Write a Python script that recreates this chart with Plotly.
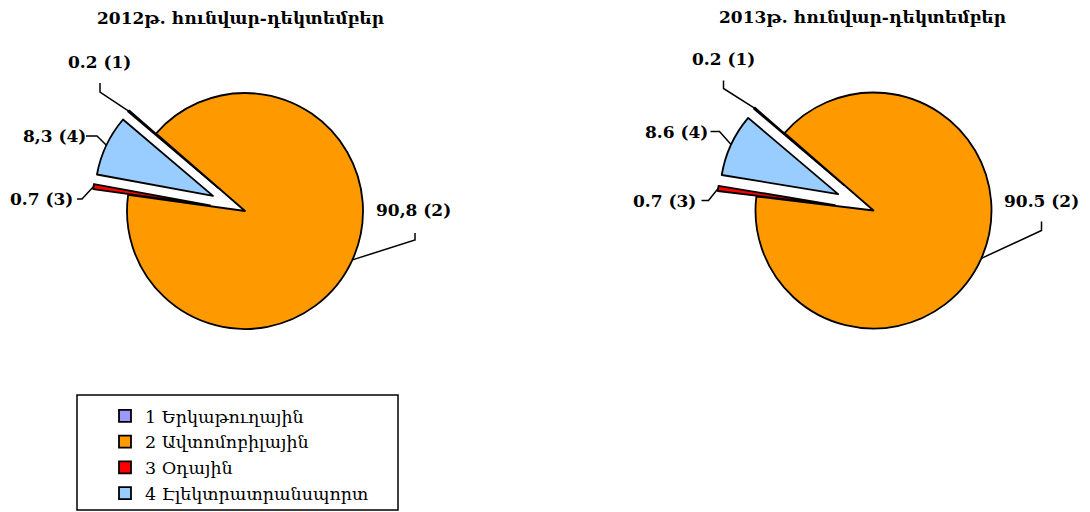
import math
import plotly.graph_objects as go

PAGE_W, PAGE_H = 1090, 512
OFF = 8  # default body margin of the html page
W, H = PAGE_W - OFF, PAGE_H - OFF

# ---------------- data ----------------
categories = ["1 Երկաթուղային", "2 Ավտոմոբիլային", "3 Օդային", "4 Էլեկտրատրանսպորտ"]
values_2012 = [0.2, 90.8, 0.7, 8.3]
values_2013 = [0.2, 90.5, 0.7, 8.6]
labels_2012 = ["0.2 (1)", "90,8 (2)", "0.7 (3)", "8,3 (4)"]
labels_2013 = ["0.2 (1)", "90.5 (2)", "0.7 (3)", "8.6 (4)"]
titles = ["2012թ. հունվար-դեկտեմբեր", "2013թ. հունվար-դեկտեմբեր"]

# ---------------- style / layout ----------------
colors = ["#9999FF", "#FF9900", "#FF0000", "#99CCFF"]
pulls_2012 = [0.3, 0, 0.3, 0.3]
pulls_2013 = [0.33, 0, 0.33, 0.33]
ROT = -49.7
FONT = "DejaVu Serif"

pies = [
    dict(values=values_2012, labels=labels_2012, pull=pulls_2012, cx=245, cy=211, r=118,
         title=titles[0], tx=240, ty=18,
         text_off=[(-146, -149), (168, -1), (-204, -12), (-191, -75)],
         start_off=[(-145, -128), (170, 22), (-168, -12), (-159, -75)],
         knee_off=[(-145, -119), (170, 29), (-163, -12), (-148, -75)]),
    dict(values=values_2013, labels=labels_2013, pull=pulls_2013, cx=873.5, cy=210.5, r=118,
         title=titles[1], tx=862, ty=17,
         text_off=[(-150, -151), (168, -10), (-209, -10), (-197, -79)],
         start_off=[(-150, -130), (168, 11), (-172, -10), (-163, -79)],
         knee_off=[(-150, -122), (168, 20), (-165, -10), (-154, -79)]),
]


def px2paper(x, y):
    """page pixel position -> paper coordinates of the figure"""
    return (x - OFF) / W, 1 - (y - OFF) / H


fig = go.Figure()
shapes = []
annotations = []

for k, p in enumerate(pies):
    hs = p["r"] * (1 + max(p["pull"]))
    x0, y1 = px2paper(p["cx"] - hs, p["cy"] - hs)
    x1, y0 = px2paper(p["cx"] + hs, p["cy"] + hs)
    fig.add_trace(go.Pie(
        labels=categories, values=p["values"], pull=p["pull"],
        sort=False, direction="clockwise", rotation=ROT,
        marker=dict(colors=colors, line=dict(color="black", width=1.8)),
        textinfo="none", showlegend=(k == 0),
        domain=dict(x=[x0, x1], y=[y0, y1]),
    ))

    total = sum(p["values"])
    cum = 0.0
    for i, v in enumerate(p["values"]):
        mid = math.radians(ROT + 360.0 * (cum + v / 2.0) / total)
        cum += v
        dx, dy = math.sin(mid), -math.cos(mid)
        rr = p["r"] * (1 + p["pull"][i])
        ex, ey = p["cx"] + rr * dx, p["cy"] + rr * dy
        sx, sy = p["cx"] + p["start_off"][i][0], p["cy"] + p["start_off"][i][1]
        kx, ky = p["cx"] + p["knee_off"][i][0], p["cy"] + p["knee_off"][i][1]
        pts = [px2paper(sx, sy), px2paper(kx, ky), px2paper(ex, ey)]
        path = "M {:.5f} {:.5f} L {:.5f} {:.5f} L {:.5f} {:.5f}".format(
            pts[0][0], pts[0][1], pts[1][0], pts[1][1], pts[2][0], pts[2][1])
        shapes.append(dict(type="path", xref="paper", yref="paper", path=path,
                           line=dict(color="black", width=1.5)))
        lx, ly = px2paper(p["cx"] + p["text_off"][i][0], p["cy"] + p["text_off"][i][1])
        annotations.append(dict(x=lx, y=ly, xref="paper", yref="paper", text=p["labels"][i],
                                showarrow=False, xanchor="center", yanchor="middle",
                                font=dict(family=FONT, size=17, color="black", weight="bold")))
    tx, ty = px2paper(p["tx"], p["ty"])
    annotations.append(dict(x=tx, y=ty, xref="paper", yref="paper", text=p["title"],
                            showarrow=False, xanchor="center", yanchor="middle",
                            font=dict(family=FONT, size=17, color="black", weight="bold")))

# legend frame
lb0 = px2paper(77, 395)
lb1 = px2paper(398, 510)
shapes.append(dict(type="rect", xref="paper", yref="paper", x0=lb0[0], y0=lb1[1], x1=lb1[0], y1=lb0[1],
                   line=dict(color="black", width=1.5), fillcolor="rgba(0,0,0,0)"))

lgx, lgy = px2paper(105, 398)
fig.update_layout(
    width=W, height=H,
    margin=dict(l=0, r=0, t=0, b=0),
    paper_bgcolor="white", plot_bgcolor="white",
    shapes=shapes, annotations=annotations,
    legend=dict(x=lgx, y=lgy, xanchor="left", yanchor="top", orientation="v",
                font=dict(family=FONT, size=17.5, color="black"),
                bgcolor="rgba(0,0,0,0)", borderwidth=0, tracegroupgap=0),
    font=dict(family=FONT),
)

fig.write_html("out.html")
